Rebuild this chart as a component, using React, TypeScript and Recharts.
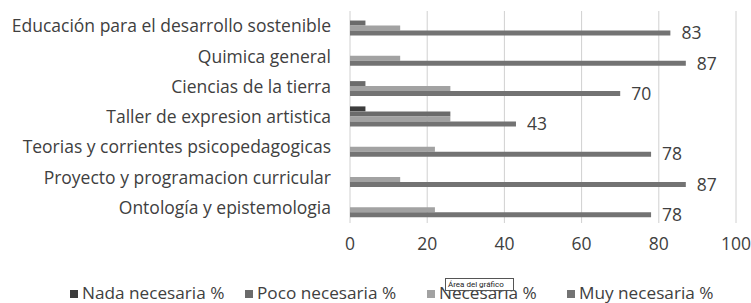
import React from "react";
import { BarChart, Bar, XAxis, YAxis, CartesianGrid, LabelList } from "recharts";

const categories = [
  "Educación para el desarrollo sostenible",
  "Quimica general",
  "Ciencias de la tierra",
  "Taller de expresion artistica",
  "Teorias y corrientes psicopedagogicas",
  "Proyecto y programacion curricular",
  "Ontología y epistemologia",
];

const nada = [0, 0, 0, 4, 0, 0, 0];
const poco = [4, 0, 4, 26, 0, 0, 0];
const necesaria = [13, 13, 26, 26, 22, 13, 22];
const muy = [83, 87, 70, 43, 78, 87, 78];

const xTicks = [0, 20, 40, 60, 80, 100];

const series = [
  { key: "nada", name: "Nada necesaria %", color: "#3c3c3c" },
  { key: "poco", name: "Poco necesaria %", color: "#6b6b6b" },
  { key: "necesaria", name: "Necesaria %", color: "#a2a2a2" },
  { key: "muy", name: "Muy necesaria %", color: "#737373" },
];

const legendLeft = [70, 245, 427, 567];

const FONT = "'Open Sans', sans-serif";
const TEXT = "#404040";
const FS = 17.5;

export default function App() {
  const data = categories.map((c, i) => ({
    name: c,
    nada: nada[i],
    poco: poco[i],
    necesaria: necesaria[i],
    muy: muy[i],
  }));

  return (
    <div
      style={{
        position: "absolute",
        left: 0,
        top: 0,
        width: 751,
        height: 303,
        background: "#fff",
        fontFamily: FONT,
      }}
    >
      <BarChart
        width={751}
        height={303}
        data={data}
        layout="vertical"
        margin={{ top: 11, right: 15, left: 0, bottom: 50 }}
        barCategoryGap="15%"
        barGap={0}
      >
        <CartesianGrid horizontal={false} stroke="#d0d0d0" />
        <XAxis
          type="number"
          domain={[0, 100]}
          ticks={xTicks}
          axisLine={false}
          tickLine={false}
          tickSize={0}
          tickMargin={15}
          height={30}
          tick={{ fontSize: FS, fill: TEXT, fontFamily: FONT }}
        />
        <YAxis
          type="category"
          dataKey="name"
          width={350}
          axisLine={false}
          tickLine={false}
          tickSize={0}
          tickMargin={19}
          interval={0}
          tick={{ fontSize: FS, fill: TEXT, fontFamily: FONT }}
        />
        {series.map((s) => (
          <Bar key={s.key} dataKey={s.key} name={s.name} fill={s.color} isAnimationActive={false}>
            {s.key === "muy" && (
              <LabelList
                dataKey="muy"
                position="right"
                offset={11}
                style={{ fontSize: FS, fill: TEXT, fontFamily: FONT }}
              />
            )}
          </Bar>
        ))}
      </BarChart>

      {series.map((s, i) => (
        <div
          key={s.key}
          style={{
            position: "absolute",
            left: legendLeft[i],
            top: 282,
            display: "flex",
            alignItems: "center",
            fontSize: FS - 0.3,
            color: TEXT,
            whiteSpace: "nowrap",
            lineHeight: "22px",
          }}
        >
          <span
            style={{
              display: "inline-block",
              width: 8,
              height: 8,
              background: s.color,
              marginRight: 4,
              marginTop: 2,
            }}
          />
          {s.name}
        </div>
      ))}

      <div
        style={{
          position: "absolute",
          left: 445,
          top: 278,
          width: 65,
          height: 11,
          border: "1px solid #555",
          background: "#fff",
          fontSize: 8,
          lineHeight: "11px",
          color: "#222",
          paddingLeft: 2,
          whiteSpace: "nowrap",
          boxSizing: "content-box",
          fontFamily: "Roboto, sans-serif",
        }}
      >
        Área del gráfico
      </div>
    </div>
  );
}
